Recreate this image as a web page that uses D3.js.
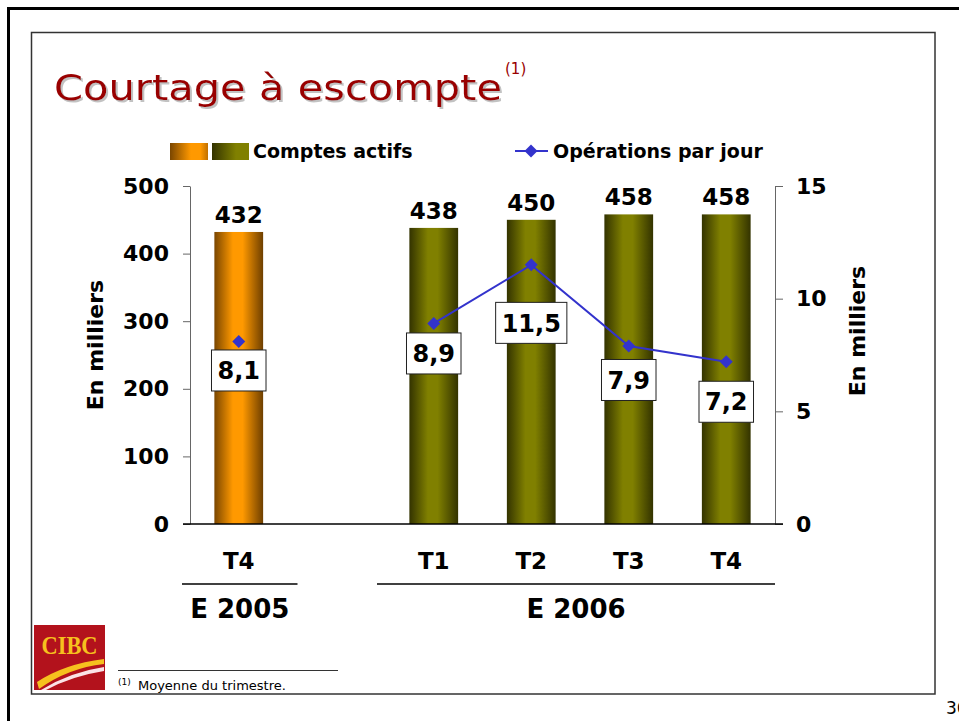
<!DOCTYPE html>
<html>
<head>
<meta charset="utf-8">
<script src="https://cdn.jsdelivr.net/npm/d3@7"></script>
<style>
  body { margin: 0; background: #fff; }
  svg { display: block; font-family: 'DejaVu Sans', Verdana, sans-serif; }
</style>
</head>
<body>
<svg id="chart" width="959" height="721"></svg>
<script>
// Data
var quarters = ['T4', 'T1', 'T2', 'T3', 'T4']
var quarterYears = ['E 2005', 'E 2006', 'E 2006', 'E 2006', 'E 2006']
var yearLabels = ['E 2005', 'E 2006']
var comptes = [432, 438, 450, 458, 458] // Comptes actifs (milliers)
var operations = [8.1, 8.9, 11.5, 7.9, 7.2] // Opérations par jour (milliers)
var leftTicks = [0, 100, 200, 300, 400, 500]
var rightTicks = [0, 5, 10, 15]

// the value boxes were hand placed on the slide: drop below the point
var boxDrop = [29, 30, 58, 34, 40]

var blue = '#3333cc'
var svg = d3.select('#chart')
var defs = svg.append('defs')

function gradient(id, stops) {
  var g = defs.append('linearGradient').attr('id', id)
    .attr('x1', 0).attr('x2', 1).attr('y1', 0).attr('y2', 0)
  stops.forEach(function(s) {
    g.append('stop').attr('offset', s[0]).attr('stop-color', s[1])
  })
}
gradient('orangeBar', [['0%', '#7a4600'], ['38%', '#ff9900'], ['58%', '#ff9900'], ['100%', '#6e3f00']])
gradient('oliveBar', [['0%', '#333300'], ['38%', '#808000'], ['58%', '#808000'], ['100%', '#333300']])
gradient('orangeKey', [['0%', '#7a4600'], ['55%', '#ff9900'], ['80%', '#ff9900'], ['100%', '#c07000']])
gradient('oliveKey', [['0%', '#333300'], ['65%', '#808000'], ['100%', '#808000']])
var barFill = { 'E 2005': 'url(#orangeBar)', 'E 2006': 'url(#oliveBar)' }

// soft title shadow
defs.append('filter').attr('id', 'shadow')
  .append('feDropShadow').attr('dx', 2).attr('dy', 2).attr('stdDeviation', 0.6)
  .attr('flood-color', '#999').attr('flood-opacity', 0.6)

// Frames
svg.append('path').attr('d', 'M8.5,721V8.5H959')
  .attr('fill', 'none').attr('stroke', '#000').attr('stroke-width', 3)
svg.append('rect').attr('x', 31.5).attr('y', 32.5).attr('width', 903.5).attr('height', 661.5)
  .attr('fill', 'none').attr('stroke', '#333').attr('stroke-width', 1.5)

// Title
svg.append('text').attr('x', 54).attr('y', 100).text('Courtage à escompte')
  .attr('font-size', 35).attr('fill', '#990000').attr('filter', 'url(#shadow)')
  .attr('textLength', 448).attr('lengthAdjust', 'spacingAndGlyphs')
svg.append('text').attr('x', 505).attr('y', 74).text('(1)')
  .attr('font-size', 15).attr('fill', '#990000')

// Scales
var slots = []
function slotKey(i) { return quarterYears[i] + ' ' + quarters[i] }
quarters.forEach(function(q, i) {
  if (i > 0 && quarterYears[i] !== quarterYears[i - 1]) slots.push('gap' + i)
  slots.push(slotKey(i))
})
var x = d3.scaleBand().domain(slots).range([190, 775]).paddingInner(0.5).paddingOuter(0.25)
var yL = d3.scaleLinear().domain([0, 500]).range([524, 186])
var yR = d3.scaleLinear().domain([0, 15]).range([524, 186])
function cx(i) { return x(slotKey(i)) + x.bandwidth() / 2 }

// Axes
function styleAxis(g) {
  g.attr('font-family', null).attr('font-size', null)
  g.select('.domain').attr('stroke', '#666')
  g.selectAll('.tick line').attr('stroke', '#666')
  g.selectAll('.tick text').attr('font-size', 22).attr('font-weight', 'bold').attr('fill', '#000')
}
svg.append('g').attr('transform', 'translate(190,0)')
  .call(d3.axisLeft(yL).tickValues(leftTicks).tickSize(7).tickSizeOuter(0).tickPadding(14))
  .call(styleAxis)
svg.append('g').attr('transform', 'translate(775,0)')
  .call(d3.axisRight(yR).tickValues(rightTicks).tickSize(8).tickSizeOuter(0).tickPadding(13))
  .call(styleAxis)

svg.append('text').attr('transform', 'translate(103,345) rotate(-90)')
  .attr('text-anchor', 'middle').attr('font-size', 22).attr('font-weight', 'bold')
  .text('En milliers')
svg.append('text').attr('transform', 'translate(865,331) rotate(-90)')
  .attr('text-anchor', 'middle').attr('font-size', 22).attr('font-weight', 'bold')
  .text('En milliers')

// Bars
svg.append('g').selectAll('rect').data(comptes).join('rect')
  .attr('x', function(d, i) { return x(slotKey(i)) })
  .attr('width', x.bandwidth())
  .attr('y', function(d) { return yL(d) })
  .attr('height', function(d) { return yL(0) - yL(d) })
  .attr('fill', function(d, i) { return barFill[quarterYears[i]] })

svg.append('g').selectAll('text').data(comptes).join('text')
  .attr('x', function(d, i) { return cx(i) })
  .attr('y', function(d) { return yL(d) - 9 })
  .attr('text-anchor', 'middle').attr('font-size', 23).attr('font-weight', 'bold')
  .text(function(d) { return d })

// zero line
svg.append('line').attr('x1', 183).attr('x2', 783).attr('y1', yL(0)).attr('y2', yL(0))
  .attr('stroke', '#000').attr('stroke-width', 1.3)

// Line (one per year)
var line = d3.line().x(function(i) { return cx(i) }).y(function(i) { return yR(operations[i]) })
yearLabels.forEach(function(yr) {
  var idx = d3.range(quarters.length).filter(function(i) { return quarterYears[i] === yr })
  svg.append('path').attr('d', line(idx)).attr('fill', 'none')
    .attr('stroke', blue).attr('stroke-width', 2)
})
var diamond = 'M0,-6.5L6.5,0L0,6.5L-6.5,0Z'
svg.append('g').selectAll('path').data(operations).join('path')
  .attr('d', diamond).attr('fill', blue)
  .attr('transform', function(d, i) { return 'translate(' + cx(i) + ',' + yR(d) + ')' })

// Value boxes
var boxes = svg.append('g').selectAll('g').data(operations).join('g')
  .attr('transform', function(d, i) {
    return 'translate(' + cx(i) + ',' + (yR(d) + boxDrop[i]) + ')'
  })
boxes.append('text').attr('text-anchor', 'middle').attr('dy', '0.36em')
  .attr('font-size', 24).attr('font-weight', 'bold')
  .text(function(d) { return d3.format('.1f')(d).replace('.', ',') })
boxes.each(function() {
  var g = d3.select(this)
  var w = g.select('text').node().getComputedTextLength() + 12
  g.insert('rect', 'text').attr('x', -w / 2).attr('y', -20.5).attr('width', w).attr('height', 41)
    .attr('fill', '#fff').attr('stroke', '#222').attr('stroke-width', 1)
})

// Category labels
svg.append('g').selectAll('text').data(quarters).join('text')
  .attr('x', function(d, i) { return cx(i) }).attr('y', 569)
  .attr('text-anchor', 'middle').attr('font-size', 23).attr('font-weight', 'bold')
  .text(function(d) { return d })

yearLabels.forEach(function(yr) {
  var idx = d3.range(quarters.length).filter(function(i) { return quarterYears[i] === yr })
  var pad = x.step() * x.paddingOuter()
  var x1 = x(slotKey(idx[0])) - pad - 8
  var x2 = Math.min(x(slotKey(idx[idx.length - 1])) + x.bandwidth() + pad + 10, 775)
  svg.append('line').attr('x1', x1).attr('x2', x2).attr('y1', 584).attr('y2', 584)
    .attr('stroke', '#000').attr('stroke-width', 1.3)
  svg.append('text').attr('x', (x1 + x2) / 2).attr('y', 618)
    .attr('text-anchor', 'middle').attr('font-size', 26).attr('font-weight', 'bold')
    .text(yr)
})

// Legend
svg.append('rect').attr('x', 170).attr('y', 143).attr('width', 38).attr('height', 17).attr('fill', 'url(#orangeKey)')
svg.append('rect').attr('x', 212).attr('y', 143).attr('width', 37).attr('height', 17).attr('fill', 'url(#oliveKey)')
svg.append('text').attr('x', 253).attr('y', 158).attr('font-size', 19).attr('font-weight', 'bold')
  .text('Comptes actifs')
svg.append('line').attr('x1', 515).attr('x2', 548).attr('y1', 151).attr('y2', 151)
  .attr('stroke', blue).attr('stroke-width', 2)
svg.append('path').attr('d', diamond).attr('fill', blue).attr('transform', 'translate(531,151)')
svg.append('text').attr('x', 553).attr('y', 158).attr('font-size', 19).attr('font-weight', 'bold')
  .text('Opérations par jour')

// CIBC logo
var logo = svg.append('g')
logo.append('rect').attr('x', 34).attr('y', 625).attr('width', 71).attr('height', 65).attr('fill', '#b3121c')
logo.append('text').attr('x', 69.5).attr('y', 654).attr('text-anchor', 'middle')
  .attr('font-family', 'Liberation Serif').attr('font-weight', 'bold').attr('font-size', 26)
  .attr('fill', '#f6c11e').attr('textLength', 56).attr('lengthAdjust', 'spacingAndGlyphs')
  .text('CIBC')
logo.append('path').attr('d', 'M37,682 Q64,664 104,659 L104,664 Q68,668 39,689 Z').attr('fill', '#f6c11e')
logo.append('path').attr('d', 'M41,690 Q70,672 104,667 L104,671 Q72,676 46,690 Z').attr('fill', '#fbe3e6')

// Footnote
svg.append('line').attr('x1', 118).attr('x2', 338).attr('y1', 670.5).attr('y2', 670.5)
  .attr('stroke', '#333').attr('stroke-width', 1)
svg.append('text').attr('x', 118).attr('y', 685).attr('font-size', 9).text('(1)')
svg.append('text').attr('x', 138).attr('y', 690).attr('font-size', 13).text('Moyenne du trimestre.')

// Page number (cut by the edge, as on the slide)
svg.append('text').attr('x', 946).attr('y', 714).attr('font-size', 17).text('36')
</script>
</body>
</html>
